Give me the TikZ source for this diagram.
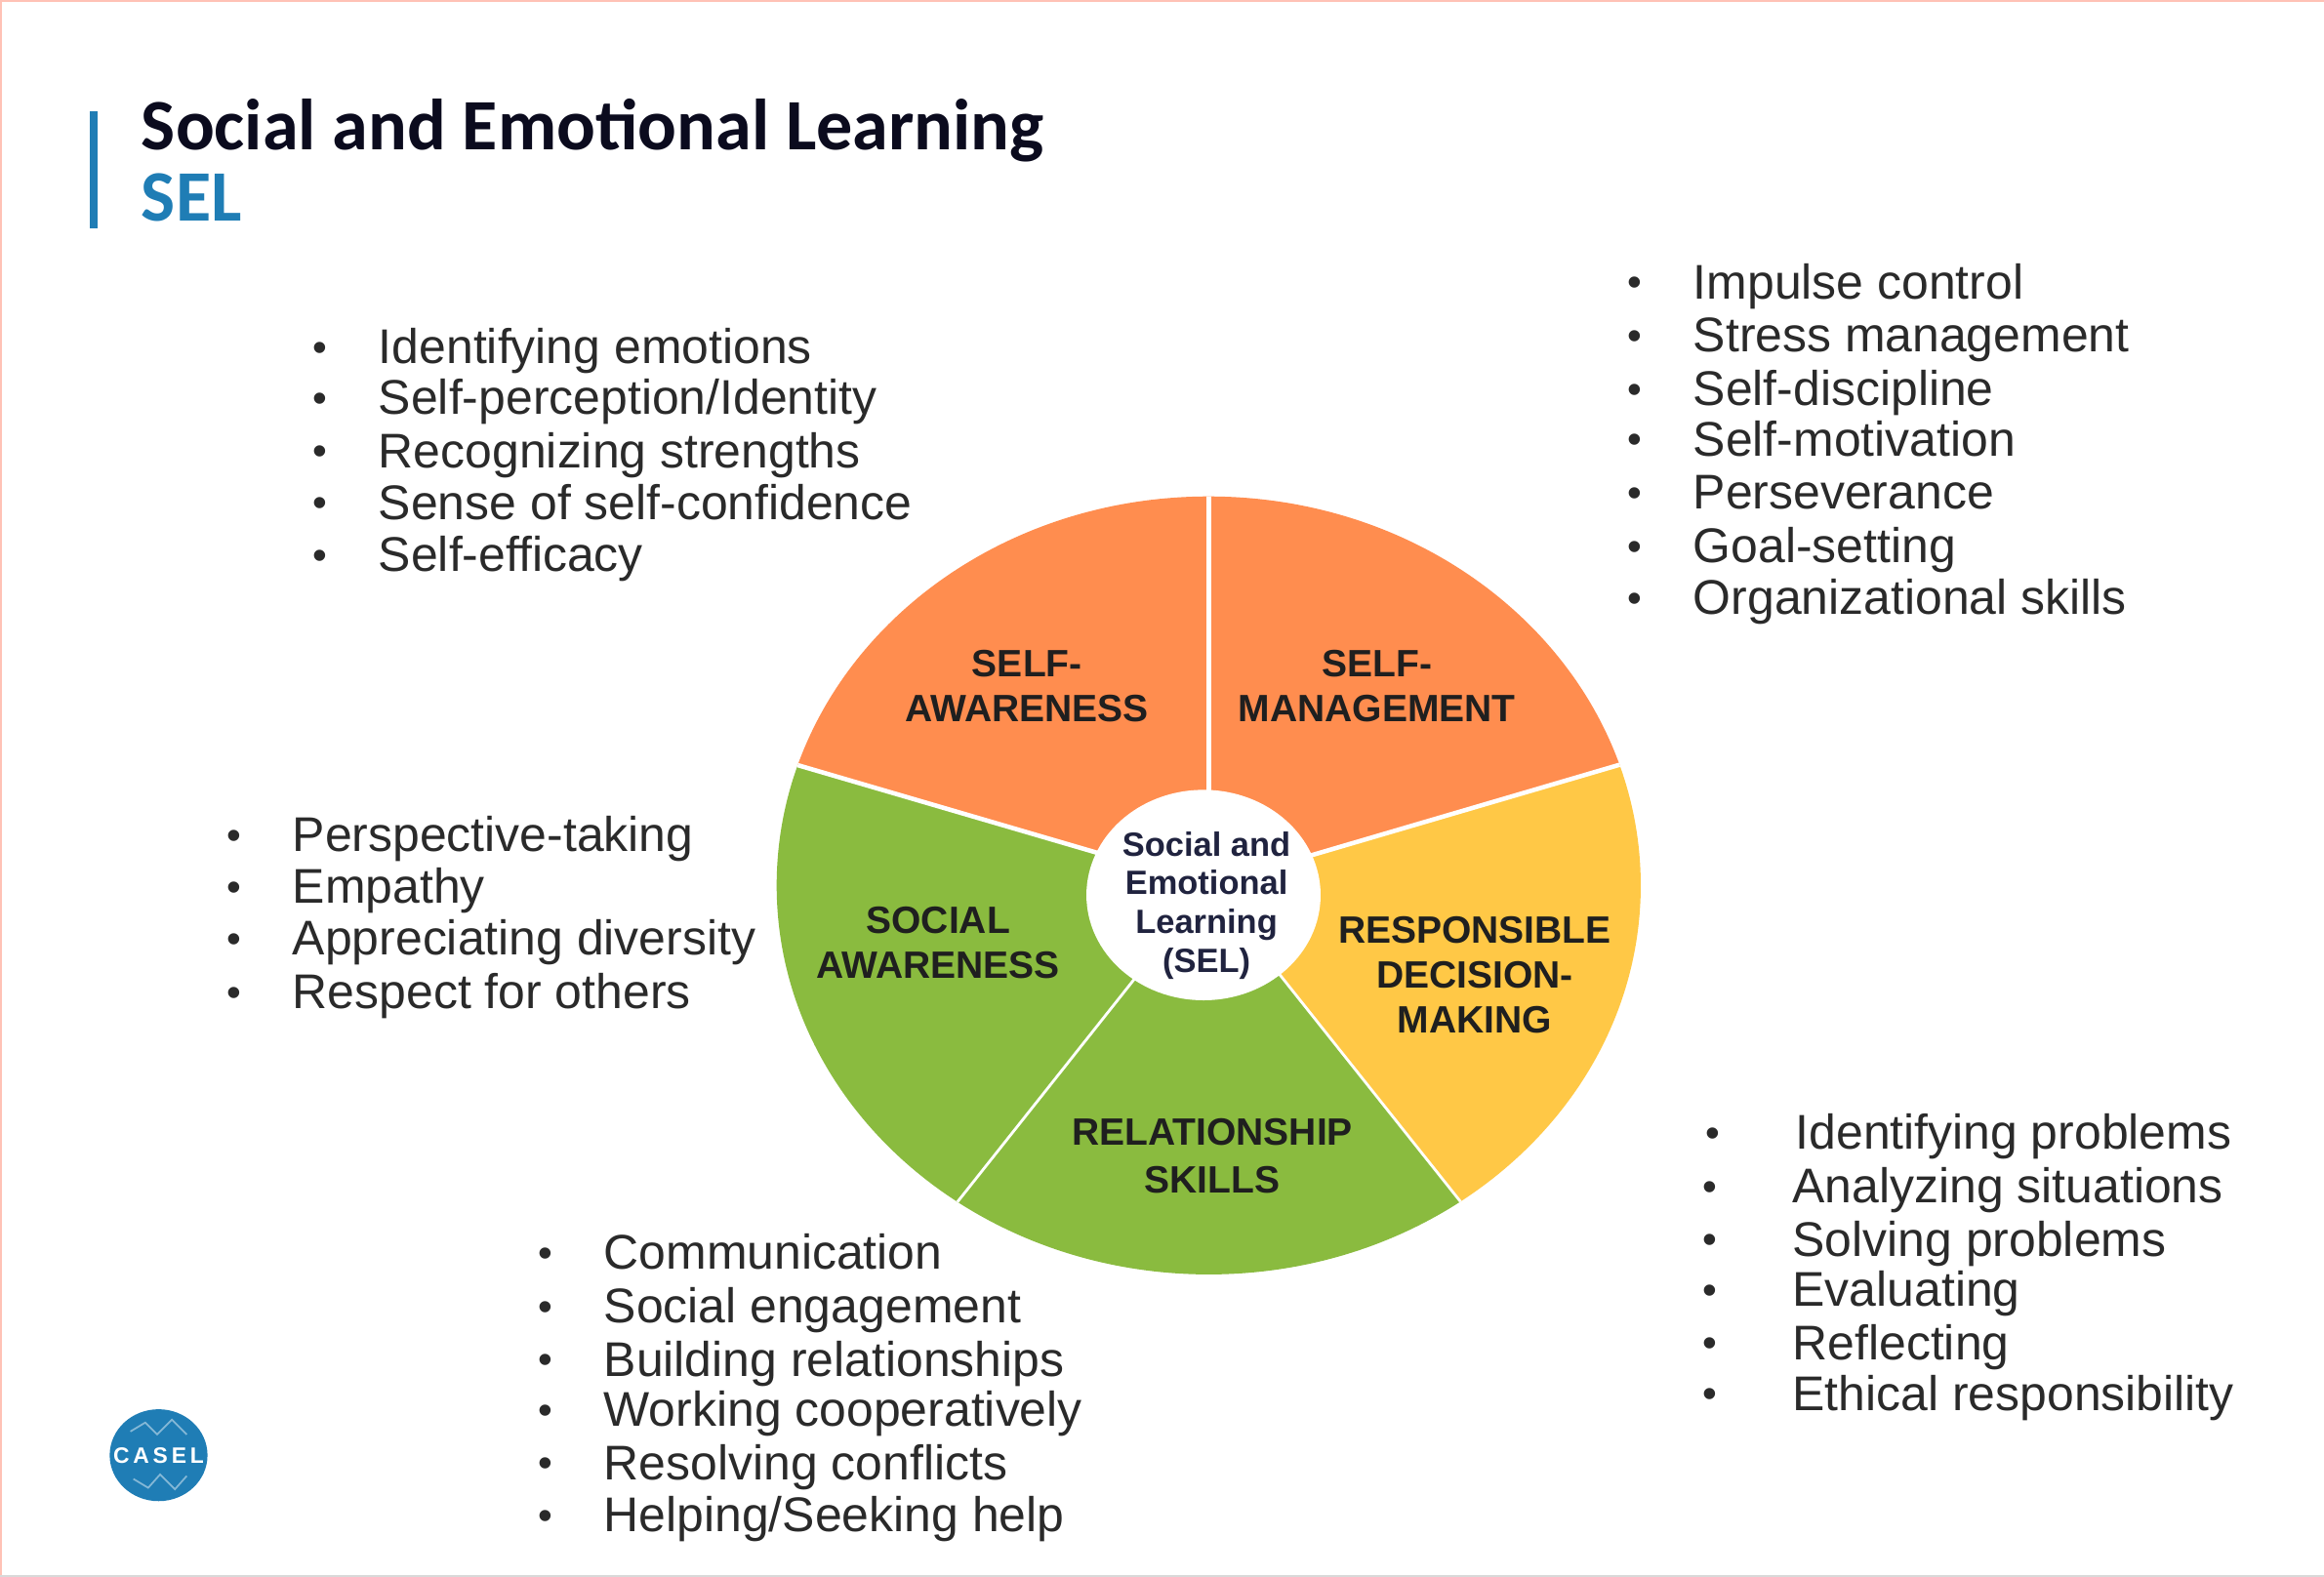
\documentclass[tikz,border=0pt]{standalone}
\usepackage{fontspec}
\setmainfont{Liberation Sans}
\newfontfamily\titlefont{Carlito}
\definecolor{sel_orange}{HTML}{FF8D4F}
\definecolor{sel_green}{HTML}{8ABB3F}
\definecolor{sel_yellow}{HTML}{FFC846}
\definecolor{sel_blue}{HTML}{1F7DB5}
\definecolor{sel_border}{HTML}{FFC2B6}
\definecolor{sel_text}{HTML}{2A2A2A}
\definecolor{sel_navy}{HTML}{20233F}
\definecolor{sel_title}{HTML}{0B0B1E}
\tikzset{
        textnode/.style={align=center,inner sep=0pt},
        % Wheel labels
        node_sector/.style={textnode, black!88, font=\fontsize{11.1}{13}\selectfont\bfseries},
        % Hub of the wheel
        node_hub/.style={textnode, sel_navy, font=\fontsize{9.8}{11.3}\selectfont\bfseries},
        % Bullet of a list entry
        node_bullet/.style={inner sep=0pt, sel_text, font=\fontsize{12}{14}\selectfont},
        % List entries
        node_item/.style={inner sep=0pt, anchor=mid west, sel_text, text height=10pt, text depth=3pt, font=\fontsize{14.2}{16}\selectfont,
            label={[node_bullet, label distance=#1]left:\textbullet}},
        node_item/.default=14.5pt,
        % Title lines
        node_title/.style={inner sep=0pt, anchor=mid west, font=\titlefont\bfseries\fontsize{21.1}{24}\selectfont}
}
\begin{document}
\begin{tikzpicture}[x=0.015185cm, y=-0.015185cm]
            \useasboundingbox (0,0) rectangle (1568,1064);
            \fill[white] (0,0) rectangle (1568,1064);
            \draw[sel_border, line width=1.4pt] (0,1064) -- (0,0) -- (1568,0);
            \draw[black!15, line width=0.8pt] (0,1064) -- (1568,1064);

            % Title
            \fill[sel_blue] (60.5,75) rectangle (66,154);
            \node[node_title, sel_title] (title) at (95,95) {Social and Emotional Learning};
            \node[node_title, sel_blue] (subtitle) at (95,143) {SEL};

            % Wheel
            \coordinate (hub) at (815.5,597.5);
            \coordinate (top) at (815.5,330);
            \coordinate (right) at (1110,511);
            \coordinate (low_right) at (1003,833);
            \coordinate (low_left) at (627,835);
            \coordinate (left) at (520,511);
            \begin{scope}
                \clip (hub) ellipse (291.5 and 262.5);
                \fill[sel_orange] (hub) -- (left) -- (520,330) -- (top) -- (1110,330) -- (right) -- cycle;
                \fill[sel_yellow] (hub) -- (right) -- (1110,840) -- (low_right) -- cycle;
                \fill[sel_green] (hub) -- (low_right) -- (low_right |- 0,870) -- (low_left |- 0,870) -- (low_left) -- cycle;
                \fill[sel_green] (hub) -- (low_left) -- (520,840) -- (left) -- cycle;
                \draw[white, line width=1.3pt] (hub) -- (top);
                \draw[white, line width=1.3pt] (hub) -- (left);
                \draw[white, line width=1.3pt] (hub) -- (right);
                \draw[white, line width=0.8pt] (hub) -- (low_left);
                \draw[white, line width=0.8pt] (hub) -- (low_right);
            \end{scope}
            \fill[white] (812,604) ellipse (79 and 71);
            \node[node_hub] (hub_label) at (814,611) {Social and\\Emotional\\Learning\\[0pt](SEL)};

            \node[node_sector] (self_awareness) at (693,463) {SELF-\\AWARENESS};
            \node[node_sector] (self_management) at (929,463) {SELF-\\MANAGEMENT};
            \node[node_sector] (decision_making) at (995,658) {RESPONSIBLE\\DECISION-\\MAKING};
            \node[node_sector] (relationship_skills) at (818,780) {RELATIONSHIP\\[1pt]SKILLS};
            \node[node_sector] (social_awareness) at (633,636) {SOCIAL\\AWARENESS};

            % Self-awareness list
            \node[node_item] (sa_a) at (255,239.5) {Identifying emotions};
            \node[node_item] (sa_b) at (255,273.5) {Self-perception/Identity};
            \node[node_item] (sa_c) at (255,309.5) {Recognizing strengths};
            \node[node_item] (sa_d) at (255,344.5) {Sense of self-confidence};
            \node[node_item] (sa_e) at (255,379.5) {Self-efficacy};

            % Self-management list
            \node[node_item] (sm_a) at (1142,195.5) {Impulse control};
            \node[node_item] (sm_b) at (1142,231.5) {Stress management};
            \node[node_item] (sm_c) at (1142,267.5) {Self-discipline};
            \node[node_item] (sm_d) at (1142,301.5) {Self-motivation};
            \node[node_item] (sm_e) at (1142,337.5) {Perseverance};
            \node[node_item] (sm_f) at (1142,373.5) {Goal-setting};
            \node[node_item] (sm_g) at (1142,408.5) {Organizational skills};

            % Social awareness list
            \node[node_item] (so_a) at (197,568.5) {Perspective-taking};
            \node[node_item] (so_b) at (197,603.5) {Empathy};
            \node[node_item] (so_c) at (197,638.5) {Appreciating diversity};
            \node[node_item] (so_d) at (197,674.5) {Respect for others};

            % Relationship skills list
            \node[node_item] (rs_a) at (407,850.5) {Communication};
            \node[node_item] (rs_b) at (407,886.5) {Social engagement};
            \node[node_item] (rs_c) at (407,922.5) {Building relationships};
            \node[node_item] (rs_d) at (407,956.5) {Working cooperatively};
            \node[node_item] (rs_e) at (407,992.5) {Resolving conflicts};
            \node[node_item] (rs_f) at (407,1027.5) {Helping/Seeking help};

            % Decision-making list
            \node[node_item=21.5pt] (dm_a) at (1211,769.5) {Identifying problems};
            \node[node_item=21.5pt] (dm_b) at (1209,805.5) {Analyzing situations};
            \node[node_item=21.5pt] (dm_c) at (1209,841.5) {Solving problems};
            \node[node_item=21.5pt] (dm_d) at (1209,875.5) {Evaluating};
            \node[node_item=21.5pt] (dm_e) at (1209,911.5) {Reflecting};
            \node[node_item=21.5pt] (dm_f) at (1209,945.5) {Ethical responsibility};

            % Logo
            \fill[sel_blue] (107,982) ellipse (33 and 31);
            \draw[white, opacity=0.45, line width=0.5pt] (88,966) -- (98,960) -- (106,968) -- (116,958) -- (126,968);
            \draw[white, opacity=0.45, line width=0.5pt] (90,998) -- (100,1004) -- (108,995) -- (118,1005) -- (126,996);
            \node[textnode, white, font=\fontsize{6.5}{8}\selectfont\bfseries] (logo) at (107,982) {C\,A\,S\,E\,L};
        \end{tikzpicture}
\end{document}
